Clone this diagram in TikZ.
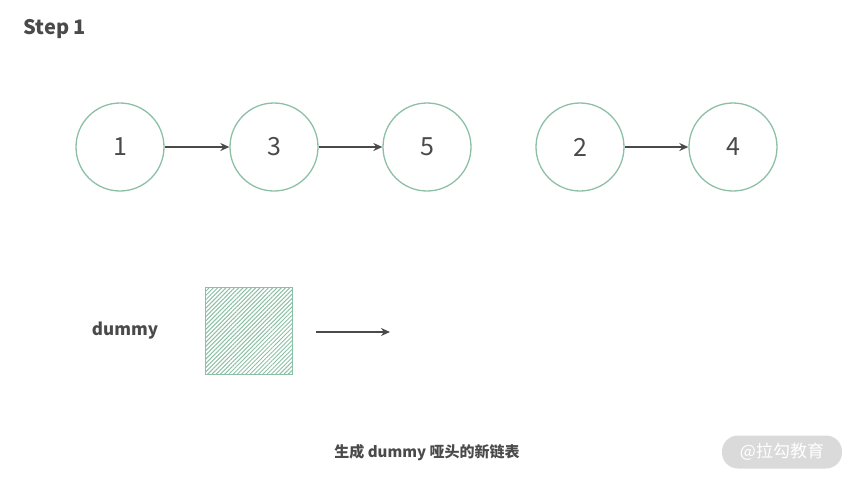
\documentclass[tikz,border=0pt]{standalone}
\usepackage{fontspec}
\setmainfont{Noto Sans CJK SC}
\usepackage{tikz}
\usetikzlibrary{patterns.meta,arrows.meta}

\definecolor{ink}{HTML}{4A4A4A}
\definecolor{leaf}{HTML}{8DBFA6}
\definecolor{mark}{HTML}{DADADA}

\tikzset{
    elem/.style={circle, draw=leaf, line width=1.3pt, minimum size=88pt, inner sep=0pt, text=ink, font=\fontsize{25}{25}\selectfont},
    link/.style={draw=ink, line width=2.6pt, -{Stealth[length=9pt,width=8pt]}},
}

\begin{document}
\begin{tikzpicture}[x=1pt,y=-1pt]
        \useasboundingbox (0,0) rectangle (853,480);

            \node[anchor=west, text=ink, font=\bfseries\fontsize{20}{20}\selectfont] (step) at (20,29) {Step 1};

            \node[elem] (1) at (120,147) {1};
            \node[elem] (3) at (274,147) {3};
            \node[elem] (5) at (427,147) {5};
            \node[elem] (2) at (580,147) {2};
            \node[elem] (4) at (733,147) {4};

            \draw[link] (1) -- (3);
            \draw[link] (3) -- (5);
            \draw[link] (2) -- (4);

            \node[text=ink, font=\bfseries\fontsize{17}{17}\selectfont] (name) at (125,331) {dummy};
            \node[draw=leaf, line width=1.3pt, pattern={Lines[angle=45, distance=3pt, line width=1pt]}, pattern color=leaf, minimum size=87pt, inner sep=0pt] (dummy) at (249,331) {};
            \coordinate (tip) at (390,332);
            \draw[link] ([xshift=23pt]dummy.east |- tip) -- (tip);

            \node[text=ink, font=\bfseries\fontsize{15}{15}\selectfont] (caption) at (427,453) {生成 dummy 哑头的新链表};

            \node[fill=mark, rounded corners=16pt, minimum width=120pt, minimum height=33pt, text=white, font=\fontsize{17}{17}\selectfont] (logo) at (782,452) {@拉勾教育};
        \end{tikzpicture}
\end{document}
